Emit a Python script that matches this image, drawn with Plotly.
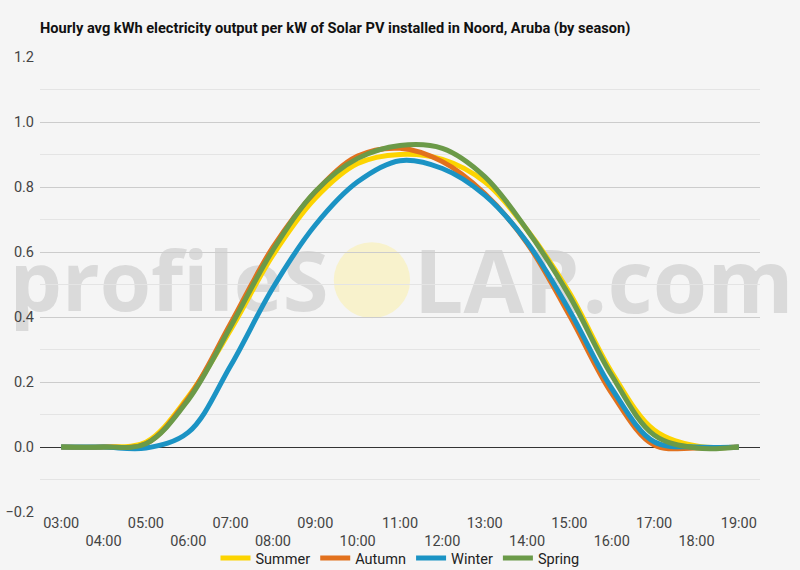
import plotly.graph_objects as go

hours = ["03:00", "04:00", "05:00", "06:00", "07:00", "08:00", "09:00", "10:00", "11:00",
         "12:00", "13:00", "14:00", "15:00", "16:00", "17:00", "18:00", "19:00"]

summer = [0, 0, 0.015, 0.155, 0.36, 0.59, 0.765, 0.872, 0.90, 0.885, 0.816, 0.668, 0.475, 0.23, 0.052, 0.003, 0]
autumn = [0, 0, 0.01, 0.15, 0.38, 0.615, 0.785, 0.895, 0.919, 0.878, 0.78, 0.627, 0.405, 0.165, 0.006, -0.003, 0]
winter = [0, 0, -0.003, 0.045, 0.25, 0.49, 0.683, 0.816, 0.881, 0.857, 0.775, 0.63, 0.42, 0.18, 0.016, 0, 0]
spring = [0, 0, 0.01, 0.145, 0.37, 0.606, 0.786, 0.888, 0.928, 0.919, 0.832, 0.668, 0.465, 0.22, 0.037, -0.003, 0]

series = [("Summer", summer, "#FCD400"),
          ("Autumn", autumn, "#E2711D"),
          ("Winter", winter, "#1B93C4"),
          ("Spring", spring, "#6B9A48")]

# staggered tick labels, every second one on a lower row
tick_text = [h if i % 2 == 0 else "<br>" + h for i, h in enumerate(hours)]

fig = go.Figure()
for name, vals, col in series:
    fig.add_trace(go.Scatter(x=hours, y=vals, name=name, mode="lines",
                             line=dict(color=col, width=5, shape="spline", smoothing=1)))

wm_left = dict(family="Open Sans", size=83, color="#dadada", weight=700)
wm_right = dict(family="Open Sans", size=88, color="#dadada", weight=700)
fig.update_layout(
    width=800, height=570,
    paper_bgcolor="#f5f5f5", plot_bgcolor="#f5f5f5",
    margin=dict(l=40, r=40, t=57, b=58),
    font=dict(family="Roboto", size=14, color="#444"),
    title=dict(text="<b>Hourly avg kWh electricity output per kW of Solar PV installed in Noord, Aruba (by season)</b>",
               x=40 / 800, xanchor="left", y=1 - 28 / 570, yanchor="middle",
               font=dict(family="Roboto", size=14.6, color="#111")),
    showlegend=True,
    legend=dict(orientation="h", x=0.5, xanchor="center", yref="container", y=1 - 558 / 570,
                yanchor="middle", font=dict(size=14.5, color="#222"), bgcolor="rgba(0,0,0,0)"),
    shapes=[
        dict(type="circle", xref="paper", yref="paper", x0=0.408, x1=0.514, y0=0.426, y1=0.593,
             fillcolor="#f8f2cc", line=dict(width=0), layer="below"),
        dict(type="rect", xref="paper", yref="paper", x0=-0.06, x1=0.405, y0=0.4, y1=0.6,
             line=dict(width=0), fillcolor="rgba(0,0,0,0)", layer="below",
             label=dict(text="profileS", font=wm_left, textposition="middle right", padding=0)),
        dict(type="rect", xref="paper", yref="paper", x0=0.515, x1=1.1, y0=0.4, y1=0.6,
             line=dict(width=0), fillcolor="rgba(0,0,0,0)", layer="below",
             label=dict(text="LAR.com", font=wm_right, textposition="middle left", padding=0)),
    ],
)
fig.update_xaxes(type="category", range=[-0.5, 16.5], tickmode="array", tickvals=hours,
                 ticktext=tick_text, showgrid=False, ticks="", automargin=False,
                 tickfont=dict(size=14.5, color="#444"))
fig.update_yaxes(range=[-0.2, 1.2], dtick=0.2, tickformat=".1f", gridcolor="#cccccc",
                 minor=dict(dtick=0.1, showgrid=True, gridcolor="#e4e4e4"),
                 zeroline=True, zerolinecolor="#333", zerolinewidth=1, automargin=False,
                 showline=False, ticks="", ticklabelstandoff=5,
                 tickfont=dict(size=14.5, color="#444"))

fig.write_html("out.html", config={"displayModeBar": False},
               post_script="document.body.style.margin='0';")
